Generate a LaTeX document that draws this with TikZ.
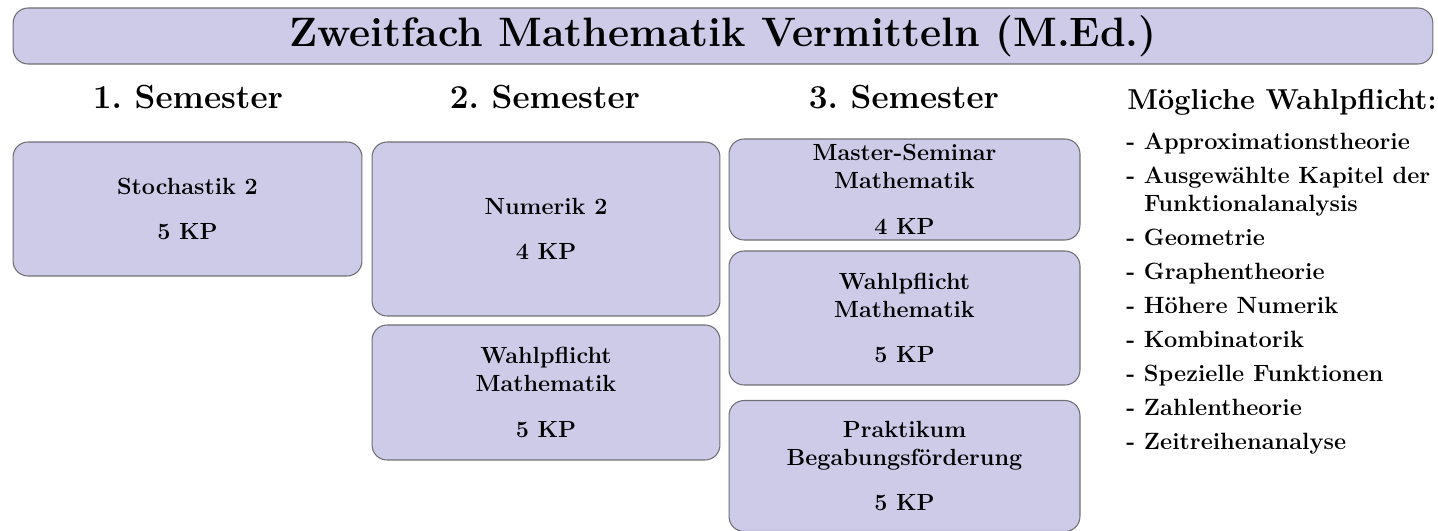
\documentclass[tikz,border=0pt]{standalone}
\usepackage{tikz}
\usetikzlibrary{positioning}
\usepackage{xcolor}

\definecolor{boxfill}{RGB}{205,203,232}
\definecolor{boxline}{RGB}{110,110,115}

\tikzset{
  modul/.style={draw=boxline, fill=boxfill, line width=0.6pt, rounded corners=0.3cm,
    align=center, font=\fontsize{13.3}{16}\selectfont\bfseries, inner sep=0pt},
  semester/.style={font=\fontsize{19}{22}\selectfont\bfseries},
}

\begin{document}
\begin{tikzpicture}[x=0.02cm, y=-0.02cm]
    \useasboundingbox (0,0) rectangle (1438,531);

    % Title bar
    \node[modul, minimum width=28.4cm, minimum height=1.12cm,
          font=\fontsize{23.4}{28}\selectfont\bfseries] (title) at (723,36)
          {Zweitfach Mathematik Vermitteln (M.Ed.)};

    % Semester headings
    \node[semester] (sem1) at (188,97) {1.\ Semester};
    \node[semester] (sem2) at (545,97) {2.\ Semester};
    \node[semester] (sem3) at (904,97) {3.\ Semester};

    % 1. Semester
    \node[modul, minimum width=6.98cm, minimum height=2.68cm] (stoch) at (187.5,209)
          {Stochastik 2\\[10pt]5 KP};

    % 2. Semester
    \node[modul, minimum width=6.96cm, minimum height=3.48cm] (num) at (546,229)
          {Numerik 2\\[10pt]4 KP};
    \node[modul, minimum width=6.96cm, minimum height=2.7cm] (wp2) at (546,392.5)
          {Wahlpflicht\\Mathematik\\[10pt]5 KP};

    % 3. Semester
    \node[modul, minimum width=7.02cm, minimum height=2.02cm] (msem) at (904.5,189.5)
          {Master-Seminar\\Mathematik\\[10pt]4 KP};
    \node[modul, minimum width=7.02cm, minimum height=2.68cm] (wp3) at (904.5,318)
          {Wahlpflicht\\Mathematik\\[10pt]5 KP};
    \node[modul, minimum width=7.02cm, minimum height=2.62cm] (prakt) at (904.5,466)
          {Praktikum\\Begabungsförderung\\[10pt]5 KP};

    % Electives
    \node[anchor=west, font=\fontsize{16.4}{19}\selectfont\bfseries, inner sep=0pt]
          (wahl) at (1127,102) {Mögliche Wahlpflicht:};
    \node[anchor=north west, align=left, inner sep=0pt,
          font=\fontsize{13.4}{15.9}\selectfont\bfseries] (liste) at (1126,133)
          {- Approximationstheorie\\[3.4pt]
           - Ausgewählte Kapitel der\\
           \hphantom{- }Funktionalanalysis\\[3.4pt]
           - Geometrie\\[3.4pt]
           - Graphentheorie\\[3.4pt]
           - Höhere Numerik\\[3.4pt]
           - Kombinatorik\\[3.4pt]
           - Spezielle Funktionen\\[3.4pt]
           - Zahlentheorie\\[3.4pt]
           - Zeitreihenanalyse};
\end{tikzpicture}
\end{document}
